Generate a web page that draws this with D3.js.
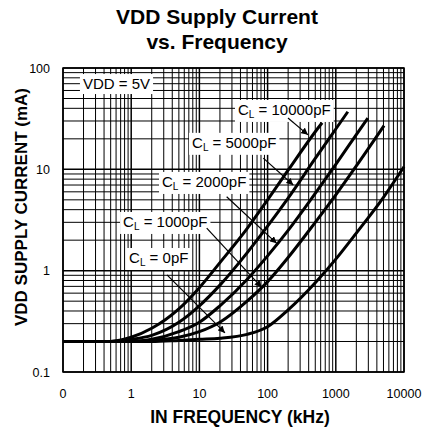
<!DOCTYPE html>
<html lang="en">
<head>
<meta charset="UTF-8">
<title>VDD Supply Current vs. Frequency</title>
<script src="https://cdn.jsdelivr.net/npm/d3@7/dist/d3.min.js"></script>
<style>
  body { margin: 0; background: #fff; }
  svg { display: block; font-family: "Liberation Sans", Arial, sans-serif; }
</style>
</head>
<body>
<script>
  // data (frequency in kHz, current in mA)
  const freqKHz = [0.1, 0.2, 0.5, 1, 2, 5, 10, 20, 50, 100, 200, 500, 1000, 2000, 5000, 10000];
  const seriesNames = ['0pF', '1000pF', '2000pF', '5000pF', '10000pF'];
  const i0pF     = [0.2, 0.2, 0.2, 0.2, 0.2, 0.205, 0.21, 0.215, 0.235, 0.28, 0.41, 0.76, 1.3, 2.35, 5.3];
  const i1000pF  = [0.2, 0.2, 0.2, 0.2, 0.205, 0.22, 0.25, 0.31, 0.5, 0.78, 1.35, 3.0, 5.6, 10.8];
  const i2000pF  = [0.2, 0.2, 0.2, 0.2, 0.21, 0.25, 0.31, 0.45, 0.82, 1.4, 2.5, 5.8, 11.2, 22];
  const i5000pF  = [0.2, 0.2, 0.2, 0.21, 0.23, 0.31, 0.45, 0.72, 1.5, 2.75, 5.2, 12.8, 25];
  const i10000pF = [0.2, 0.2, 0.2, 0.22, 0.27, 0.42, 0.68, 1.2, 2.6, 5.0, 9.8, 23.5];
  // where each curve stops
  const endFreq    = [10000, 5100, 2950, 1500, 630];
  const endCurrent = [10.6, 27, 32, 37, 28.8];

  const xTicks = [0.1, 1, 10, 100, 1000, 10000];
  const xTickLabels = ['0', '1', '10', '100', '1000', '10000'];
  const yTicks = [0.1, 1, 10, 100];
  const yTickLabels = ['0.1', '1', '10', '100'];

  // annotations: label anchor (f, I), arrow start and tip
  const notes = [
    { main: 'VDD = 5V', f: 0.196, i: 62 },
    { sub: true, value: '10000pF', f: 36.8, i: 34.4, a: [199, 32.1, 391, 21.9] },
    { sub: true, value: '5000pF', f: 7.8, i: 16.3, a: [86.5, 12.9, 238, 7.0] },
    { sub: true, value: '2000pF', f: 2.83, i: 6.7, a: [25.1, 5.37, 136, 1.86] },
    { sub: true, value: '1000pF', f: 0.76, i: 2.7, a: [12.8, 2.63, 81.9, 0.685] },
    { sub: true, value: '0pF', f: 0.93, i: 1.19, a: [3.35, 0.91, 23.7, 0.243] }
  ];

  const width = 425, height = 435;
  const plot = { left: 63, top: 68, right: 404, bottom: 372 };

  const svg = d3.select('body').append('svg')
    .attr('width', width).attr('height', height);

  const x = d3.scaleLog().domain([0.1, 10000]).range([plot.left, plot.right]);
  const y = d3.scaleLog().domain([0.1, 100]).range([plot.bottom, plot.top]);

  // grid
  const minorX = [], minorY = [];
  for (let d = 0.1; d < 10000; d *= 10) {
    for (let k = 2; k <= 9; k++) minorX.push(d * k);
  }
  for (let d = 0.1; d < 100; d *= 10) {
    for (let k = 2; k <= 9; k++) minorY.push(d * k);
  }
  const grid = svg.append('g');
  grid.selectAll('.vx').data(minorX).join('line')
    .attr('x1', d => x(d)).attr('x2', d => x(d))
    .attr('y1', plot.top).attr('y2', plot.bottom)
    .attr('stroke', '#000').attr('stroke-width', 1);
  grid.selectAll('.hy').data(minorY).join('line')
    .attr('y1', d => y(d)).attr('y2', d => y(d))
    .attr('x1', plot.left).attr('x2', plot.right)
    .attr('stroke', '#000').attr('stroke-width', 1);
  grid.selectAll('.vmaj').data(xTicks).join('line')
    .attr('x1', d => x(d)).attr('x2', d => x(d))
    .attr('y1', plot.top).attr('y2', plot.bottom)
    .attr('stroke', '#000').attr('stroke-width', 1.5);
  grid.selectAll('.hmaj').data(yTicks).join('line')
    .attr('y1', d => y(d)).attr('y2', d => y(d))
    .attr('x1', plot.left).attr('x2', plot.right)
    .attr('stroke', '#000').attr('stroke-width', 1.5);

  svg.append('rect')
    .attr('x', plot.left).attr('y', plot.top)
    .attr('width', plot.right - plot.left).attr('height', plot.bottom - plot.top)
    .attr('fill', 'none').attr('stroke', '#000').attr('stroke-width', 1.5);

  // curves
  const allValues = [i0pF, i1000pF, i2000pF, i5000pF, i10000pF];
  const curves = seriesNames.map((name, s) => {
    const pts = allValues[s].map((v, j) => [freqKHz[j], v]);
    pts.push([endFreq[s], endCurrent[s]]);
    return pts;
  });
  const line = d3.line()
    .x(d => x(d[0])).y(d => y(d[1]))
    .curve(d3.curveMonotoneX);
  svg.append('g').selectAll('path').data(curves).join('path')
    .attr('d', line)
    .attr('fill', 'none').attr('stroke', '#000')
    .attr('stroke-width', 3).attr('stroke-linecap', 'butt');

  // arrowhead
  svg.append('defs').append('marker')
    .attr('id', 'head').attr('viewBox', '0 0 10 10')
    .attr('refX', 10).attr('refY', 5)
    .attr('markerWidth', 7).attr('markerHeight', 7)
    .attr('markerUnits', 'userSpaceOnUse')
    .attr('orient', 'auto')
    .append('path').attr('d', 'M0,0 L10,5 L0,10 Z').attr('fill', '#000');

  // labels with white boxes
  notes.forEach(n => {
    const g = svg.append('g');
    const t = g.append('text')
      .attr('x', x(n.f)).attr('y', y(n.i))
      .attr('font-size', 15).attr('fill', '#000');
    if (n.sub) {
      t.append('tspan').text('C');
      t.append('tspan').attr('font-size', 10).attr('dy', 3).text('L');
      t.append('tspan').attr('dy', -3).text(' = ' + n.value);
    } else {
      t.text(n.main);
    }
    const b = t.node().getBBox();
    g.insert('rect', 'text')
      .attr('x', b.x - 3).attr('y', b.y - 1)
      .attr('width', b.width + 6).attr('height', b.height + 3)
      .attr('fill', '#fff');
    if (n.a) {
      svg.append('line')
        .attr('x1', x(n.a[0])).attr('y1', y(n.a[1]))
        .attr('x2', x(n.a[2])).attr('y2', y(n.a[3]))
        .attr('stroke', '#000').attr('stroke-width', 1.2)
        .attr('marker-end', 'url(#head)');
    }
  });

  // tick labels
  svg.append('g').selectAll('text').data(xTicks).join('text')
    .attr('x', d => x(d)).attr('y', 398)
    .attr('text-anchor', 'middle').attr('font-size', 12.5)
    .text((d, i) => xTickLabels[i]);
  svg.append('g').selectAll('text').data(yTicks).join('text')
    .attr('x', 50).attr('y', d => y(d) + 4.5)
    .attr('text-anchor', 'end').attr('font-size', 12.5)
    .text((d, i) => yTickLabels[i]);

  // titles
  svg.append('text').attr('x', 217).attr('y', 24)
    .attr('text-anchor', 'middle').attr('font-size', 21).attr('font-weight', 'bold')
    .text('VDD Supply Current');
  svg.append('text').attr('x', 217).attr('y', 49)
    .attr('text-anchor', 'middle').attr('font-size', 21).attr('font-weight', 'bold')
    .text('vs. Frequency');
  svg.append('text').attr('x', 240).attr('y', 423)
    .attr('text-anchor', 'middle').attr('font-size', 17.5).attr('font-weight', 'bold')
    .text('IN FREQUENCY (kHz)');
  svg.append('text')
    .attr('transform', 'translate(27,207) rotate(-90)')
    .attr('text-anchor', 'middle').attr('font-size', 17).attr('font-weight', 'bold')
    .text('VDD SUPPLY CURRENT (mA)');
</script>
</body>
</html>
